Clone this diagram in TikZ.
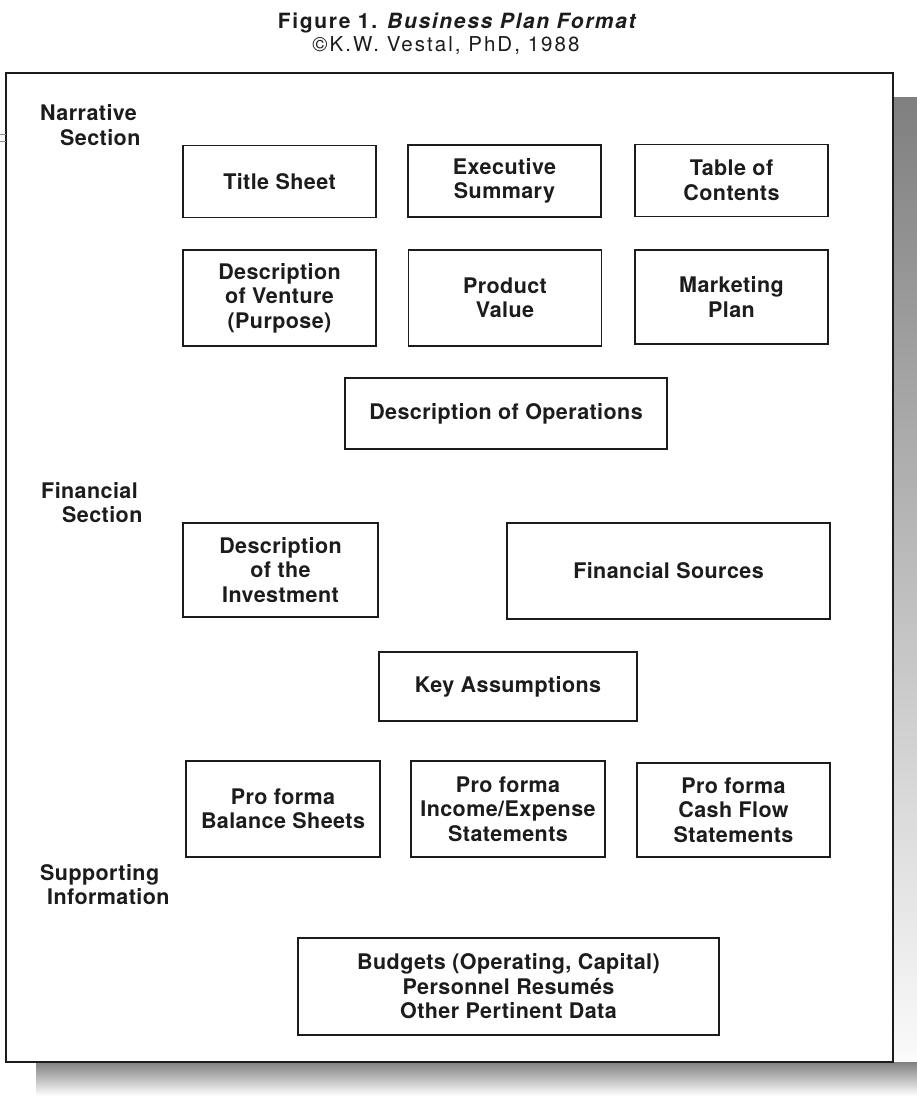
\documentclass[tikz,border=0pt]{standalone}
\usepackage{fontspec}
\setmainfont{TeX Gyre Heros}
\newfontfamily\titlefont[LetterSpace=8]{TeX Gyre Heros}
\newfontfamily\copyfont[LetterSpace=10]{TeX Gyre Heros}
\newfontfamily\boxfont[LetterSpace=2]{TeX Gyre Heros}
\definecolor{ink}{HTML}{1C1C1C}
\definecolor{shade}{HTML}{ABABAB}
\begin{document}
\begin{tikzpicture}[x=1pt,y=-1pt,
  box/.style={draw=ink, line width=1.4pt, inner sep=0pt, align=center,
    text=ink, font=\fontsize{21.5}{24.5}\boxfont\bfseries},
  lbl/.style={inner sep=0pt, anchor=base west, text=ink,
    font=\fontsize{21.5}{24.5}\boxfont\bfseries},
  ttl/.style={inner sep=0pt, anchor=base, text=ink}]
\useasboundingbox (0,0) rectangle (917,1096);
\fill[white] (0,0) rectangle (917,1096);
% shadow
\fill[shade] (893,97) rectangle (917,1096);
\fill[shade] (36,1062) rectangle (917,1096);
% frame
\draw[ink, line width=1.3pt, fill=white] (6,73) rectangle (893,1062);
% small marks at left edge
\draw[black!45, line width=0.8pt] (0,134) -- (6,134) (0,141) -- (6,141);
% title
\node[ttl, font=\fontsize{21}{24}\titlefont\bfseries] (title) at (458,28)
  {Figure 1. \textit{Business Plan Format}};
\node[ttl, font=\fontsize{20.5}{24}\copyfont] (copy) at (446,51)
  {©K.W. Vestal, PhD, 1988};
% section labels
\node[lbl] (narA) at (40,120) {Narrative};
\node[lbl] (narB) at (60,145) {Section};
\node[lbl] (finA) at (41,498) {Financial};
\node[lbl] (finB) at (62,522) {Section};
\node[lbl] (supA) at (40,880) {Supporting};
\node[lbl] (supB) at (47,904) {Information};
% narrative boxes
\node[box, minimum width=193, minimum height=72] (ts) at (279.5,181.5) {Title Sheet};
\node[box, minimum width=193, minimum height=72] (es) at (504.5,181) {Executive\\Summary};
\node[box, minimum width=193, minimum height=72] (toc) at (731.5,180.5) {Table of\\Contents};
\node[box, minimum width=193, minimum height=96] (dv) at (279.5,298) {Description\\of Venture\\(Purpose)};
\node[box, minimum width=193, minimum height=96] (pv) at (505,298) {Product\\Value};
\node[box, minimum width=193, minimum height=94] (mp) at (731.5,297) {Marketing\\Plan};
\node[box, minimum width=322, minimum height=71] (dop) at (506,413.5) {Description of Operations};
% financial boxes
\node[box, minimum width=195, minimum height=94] (di) at (280.5,570) {Description\\of the\\Investment};
\node[box, minimum width=323, minimum height=96] (fs) at (668.5,571) {Financial Sources};
\node[box, minimum width=258, minimum height=69] (ka) at (508,686.5) {Key Assumptions};
\node[box, minimum width=194, minimum height=96] (pb) at (283,809) {Pro forma\\Balance Sheets};
\node[box, minimum width=194, minimum height=96] (pi) at (508,809) {Pro forma\\Income/Expense\\Statements};
\node[box, minimum width=193, minimum height=94] (pc) at (733.5,810) {Pro forma\\Cash Flow\\Statements};
% supporting
\node[box, minimum width=421, minimum height=97] (bud) at (508.5,986.5) {Budgets (Operating, Capital)\\Personnel Resumés\\Other Pertinent Data};
\end{tikzpicture}
\end{document}
